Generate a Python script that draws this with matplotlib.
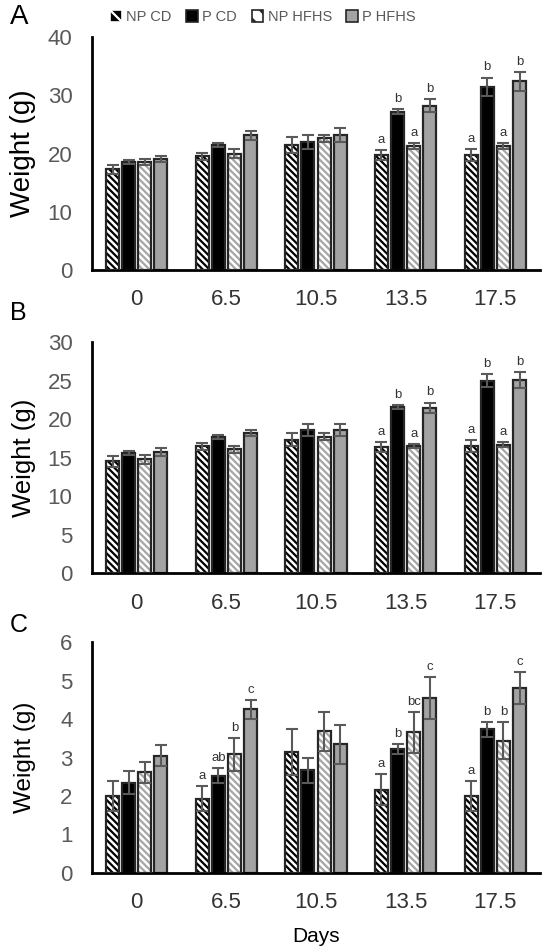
import numpy as np
import matplotlib.pyplot as plt
from matplotlib.patches import Patch

plt.rcParams['font.family'] = ['Liberation Sans', 'DejaVu Sans']
plt.rcParams['hatch.linewidth'] = 1.6

days = ['0', '6.5', '10.5', '13.5', '17.5']
groups = ['NP CD', 'P CD', 'NP HFHS', 'P HFHS']

# panel A
a_np_cd = [17.3, 19.5, 21.5, 19.8, 19.7]
a_p_cd = [18.6, 21.5, 22.0, 27.2, 31.5]
a_np_hfhs = [18.5, 20.0, 22.6, 21.3, 21.3]
a_p_hfhs = [19.1, 23.1, 23.2, 28.2, 32.4]
a_err_np_cd = [0.8, 0.55, 1.4, 0.85, 1.0]
a_err_p_cd = [0.35, 0.35, 1.2, 0.45, 1.55]
a_err_np_hfhs = [0.5, 0.75, 0.6, 0.5, 0.5]
a_err_p_hfhs = [0.5, 0.7, 1.15, 1.15, 1.65]

# panel B
b_np_cd = [14.5, 16.5, 17.3, 16.4, 16.5]
b_p_cd = [15.6, 17.7, 18.6, 21.6, 25.0]
b_np_hfhs = [14.8, 16.1, 17.7, 16.5, 16.7]
b_p_hfhs = [15.7, 18.2, 18.6, 21.5, 25.1]
b_err_np_cd = [0.7, 0.45, 0.85, 0.65, 0.75]
b_err_p_cd = [0.3, 0.3, 0.75, 0.25, 0.85]
b_err_np_hfhs = [0.6, 0.45, 0.45, 0.25, 0.35]
b_err_p_hfhs = [0.5, 0.35, 0.75, 0.65, 1.05]

# panel C
c_np_cd = [2.0, 1.93, 3.14, 2.16, 2.0]
c_p_cd = [2.35, 2.53, 2.67, 3.22, 3.73]
c_np_hfhs = [2.62, 3.08, 3.68, 3.65, 3.43]
c_p_hfhs = [3.05, 4.25, 3.34, 4.55, 4.8]
c_err_np_cd = [0.4, 0.33, 0.6, 0.4, 0.38]
c_err_p_cd = [0.3, 0.2, 0.33, 0.12, 0.2]
c_err_np_hfhs = [0.27, 0.42, 0.5, 0.52, 0.48]
c_err_p_hfhs = [0.27, 0.25, 0.5, 0.54, 0.42]

# significance letters per day, per group
ab_letters_np_cd = ['', '', '', 'a', 'a']
ab_letters_p_cd = ['', '', '', 'b', 'b']
ab_letters_np_hfhs = ['', '', '', 'a', 'a']
ab_letters_p_hfhs = ['', '', '', 'b', 'b']
c_letters_np_cd = ['', 'a', '', 'a', 'a']
c_letters_p_cd = ['', 'ab', '', 'b', 'b']
c_letters_np_hfhs = ['', 'b', '', 'bc', 'b']
c_letters_p_hfhs = ['', 'c', '', 'c', 'c']

tick_gray = '#595959'
edge = '#262626'
styles = [
    dict(face='white', hatch='\\' * 5, hcolor='black'),
    dict(face='black', hatch=None, hcolor=None),
    dict(face='white', hatch='\\' * 5, hcolor='#a6a6a6'),
    dict(face='#a3a3a3', hatch=None, hcolor=None),
]

x = np.arange(len(days))
width = 0.145
step = 0.18


def draw_panel(ax, values, errors, letters, ymax, ystep):
    for i, (vals, errs, lets, st) in enumerate(zip(values, errors, letters, styles)):
        pos = x + (i - 1.5) * step
        if st['hatch']:
            ax.bar(pos, vals, width, color=st['face'], hatch=st['hatch'],
                   edgecolor=st['hcolor'], linewidth=0, zorder=2)
            ax.bar(pos, vals, width, fill=False, edgecolor=edge, linewidth=1.6, zorder=3)
        else:
            ax.bar(pos, vals, width, color=st['face'], edgecolor=edge, linewidth=1.6, zorder=2)
        ax.errorbar(pos, vals, yerr=errs, fmt='none', ecolor='#5a5a5a',
                    elinewidth=1.5, capsize=4.5, capthick=1.5, zorder=4)
        for p, v, e, t in zip(pos, vals, errs, lets):
            if t:
                ax.annotate(t, (p, v + e), xytext=(0, 3), textcoords='offset points',
                            ha='center', va='bottom', fontsize=9.5, color='#333333')
    ax.set_xlim(-0.5, len(days) - 0.5)
    ax.set_ylim(0, ymax)
    ax.set_yticks(np.arange(0, ymax + 0.01, ystep))
    ax.set_xticks(x)
    ax.set_xticklabels(days)
    for s in ['top', 'right']:
        ax.spines[s].set_visible(False)
    for s in ['left', 'bottom']:
        ax.spines[s].set_linewidth(2)
        ax.spines[s].set_color('black')
    ax.tick_params(axis='y', length=0, pad=14, labelsize=16, labelcolor=tick_gray)
    ax.tick_params(axis='x', length=0, pad=14, labelsize=16, labelcolor='#333333')


fig = plt.figure(figsize=(5.54, 9.52), dpi=100)
left, w = 0.166, 0.809
axA = fig.add_axes([left, 0.7164, w, 0.2447])
axB = fig.add_axes([left, 0.398, w, 0.2426])
axC = fig.add_axes([left, 0.083, w, 0.2426])

draw_panel(axA, [a_np_cd, a_p_cd, a_np_hfhs, a_p_hfhs],
           [a_err_np_cd, a_err_p_cd, a_err_np_hfhs, a_err_p_hfhs],
           [ab_letters_np_cd, ab_letters_p_cd, ab_letters_np_hfhs, ab_letters_p_hfhs], 40, 10)
draw_panel(axB, [b_np_cd, b_p_cd, b_np_hfhs, b_p_hfhs],
           [b_err_np_cd, b_err_p_cd, b_err_np_hfhs, b_err_p_hfhs],
           [ab_letters_np_cd, ab_letters_p_cd, ab_letters_np_hfhs, ab_letters_p_hfhs], 30, 5)
draw_panel(axC, [c_np_cd, c_p_cd, c_np_hfhs, c_p_hfhs],
           [c_err_np_cd, c_err_p_cd, c_err_np_hfhs, c_err_p_hfhs],
           [c_letters_np_cd, c_letters_p_cd, c_letters_np_hfhs, c_letters_p_hfhs], 6, 1)

axA.set_ylabel('Weight (g)', fontsize=20)
axB.set_ylabel('Weight (g)', fontsize=18.5)
axC.set_ylabel('Weight (g)', fontsize=17.5)
for ax in (axA, axB, axC):
    ax.yaxis.set_label_coords(-0.125, 0.5)
axC.set_xlabel('Days', fontsize=15, labelpad=10)

fig.text(0.018, 0.982, 'A', fontsize=20, va='center', ha='left')
fig.text(0.018, 0.671, 'B', fontsize=18, va='center', ha='left')
fig.text(0.018, 0.343, 'C', fontsize=18, va='center', ha='left')

handles = []
for g, st in zip(groups, styles):
    if st['hatch']:
        dark = st['hcolor'] == 'black'
        handles.append(Patch(facecolor='black' if dark else 'white', hatch='\\\\',
                             edgecolor='white' if dark else edge, linewidth=1.2, label=g))
    else:
        handles.append(Patch(facecolor=st['face'], edgecolor=edge, linewidth=1.2, label=g))
leg = fig.legend(handles=handles, loc='center', bbox_to_anchor=(0.475, 0.982), ncol=4,
                 frameon=False, fontsize=10.5, handlelength=0.8, handleheight=0.8,
                 handletextpad=0.3, columnspacing=1.0)
for t in leg.get_texts():
    t.set_color(tick_gray)

fig.savefig('out.png', dpi=100)
